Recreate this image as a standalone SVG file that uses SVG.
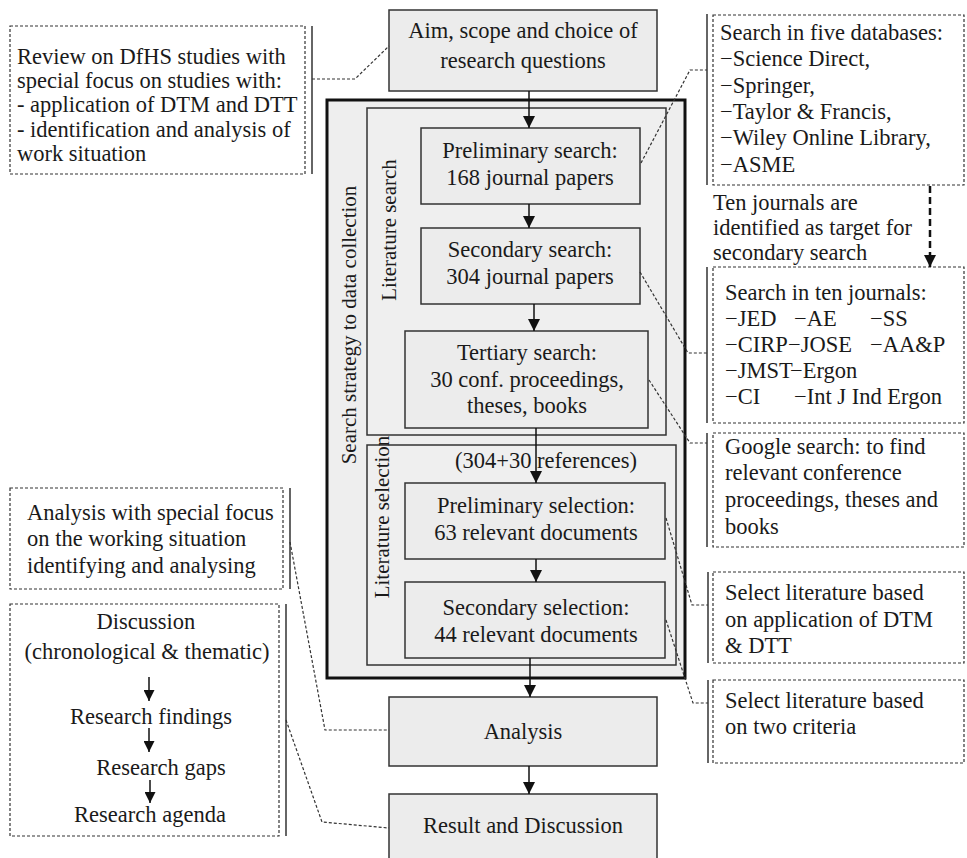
<svg xmlns="http://www.w3.org/2000/svg" width="967" height="858" viewBox="0 0 967 858">
<defs>
<marker id="ah" viewBox="0 0 10 10" refX="10" refY="5" markerWidth="12" markerHeight="12" markerUnits="userSpaceOnUse" orient="auto"><path d="M0,0 L10,5 L0,10 z" fill="#111"/></marker>
<marker id="ahs" viewBox="0 0 10 10" refX="10" refY="5" markerWidth="11" markerHeight="11" markerUnits="userSpaceOnUse" orient="auto"><path d="M0,0 L10,5 L0,10 z" fill="#111"/></marker>
<style>
text{font-family:"Liberation Serif","Times New Roman",serif;font-size:22.5px;fill:#1a1a1a}
.c{text-anchor:middle}
.v{font-size:21px}
.box{fill:#ececec;stroke:#333;stroke-width:1.5}
.grp{fill:#efefef;stroke:#333;stroke-width:1.5}
.outer{fill:#eeeeee;stroke:#111;stroke-width:3}
.note{fill:#fff;stroke:#333;stroke-width:1.2;stroke-dasharray:3 2}
.bar{stroke:#333;stroke-width:1.5;fill:none}
.dash{fill:none;stroke:#333;stroke-width:1.2;stroke-dasharray:3 2}
.arr{stroke:#111;stroke-width:1.5;fill:none;marker-end:url(#ah)}
.arrs{stroke:#111;stroke-width:1.5;fill:none;marker-end:url(#ahs)}
</style>
</defs>

<g id="aim">
<rect class="box" x="389" y="10" width="268" height="81"/>
<text class="c" x="523" y="38">Aim, scope and choice of</text>
<text class="c" x="523" y="68">research questions</text>
</g>

<g id="strategy">
<rect class="outer" x="327" y="100" width="358" height="578"/>
<text class="v c" transform="translate(356,325) rotate(-90)">Search strategy to data collection</text>
</g>

<g id="lit-search">
<rect class="grp" x="367" y="108" width="299" height="327"/>
<text class="v c" transform="translate(396,230) rotate(-90)">Literature search</text>
</g>

<g id="lit-selection">
<rect class="grp" x="367" y="445" width="309" height="220"/>
<text class="v c" transform="translate(389,517) rotate(-90)">Literature selection</text>
<text class="c" x="546" y="468">(304+30 references)</text>
</g>

<g id="prelim-search">
<rect class="box" x="421" y="128" width="219" height="76"/>
<text class="c" x="530" y="158">Preliminary  search:</text>
<text class="c" x="530" y="185">168 journal papers</text>
</g>

<g id="secondary-search">
<rect class="box" x="421" y="228" width="219" height="76"/>
<text class="c" x="530" y="257">Secondary search:</text>
<text class="c" x="530" y="284">304 journal papers</text>
</g>

<g id="tertiary-search">
<rect class="box" x="405" y="331" width="243" height="97"/>
<text class="c" x="527" y="360">Tertiary search:</text>
<text class="c" x="527" y="387">30 conf. proceedings,</text>
<text class="c" x="527" y="413">theses, books</text>
</g>

<g id="prelim-selection">
<rect class="box" x="405" y="483" width="260" height="76"/>
<text class="c" x="536" y="513">Preliminary  selection:</text>
<text class="c" x="536" y="540">63 relevant documents</text>
</g>

<g id="secondary-selection">
<rect class="box" x="405" y="582" width="260" height="76"/>
<text class="c" x="536" y="615">Secondary selection:</text>
<text class="c" x="536" y="642">44 relevant documents</text>
</g>

<g id="analysis">
<rect class="box" x="389" y="697" width="268" height="69"/>
<text class="c" x="523" y="739">Analysis</text>
</g>

<g id="result">
<rect class="box" x="389" y="794" width="268" height="70"/>
<text class="c" x="523" y="833">Result and Discussion</text>
</g>

<g id="note-review">
<rect class="note" x="10" y="26" width="295" height="148"/>
<line class="bar" x1="312" y1="26" x2="312" y2="174"/>
<text x="17" y="64">Review on DfHS studies with</text>
<text x="17" y="88">special focus on studies with:</text>
<text x="17" y="112">- application of DTM and DTT</text>
<text x="17" y="137">- identification and analysis of</text>
<text x="17" y="161">work situation</text>
</g>

<g id="note-analysis">
<rect class="note" x="10" y="488" width="273" height="101"/>
<line class="bar" x1="290" y1="488" x2="290" y2="589"/>
<text x="27" y="520">Analysis with special focus</text>
<text x="27" y="546">on the working situation</text>
<text x="27" y="573">identifying and analysing</text>
</g>

<g id="note-discussion">
<rect class="note" x="10" y="604" width="269" height="232"/>
<line class="bar" x1="286" y1="604" x2="286" y2="836"/>
<text class="c" x="146" y="629">Discussion</text>
<text class="c" x="147" y="659">(chronological &amp; thematic)</text>
<line class="arrs" x1="149" y1="677" x2="149" y2="701"/>
<text class="c" x="151" y="724">Research findings</text>
<line class="arrs" x1="149" y1="728" x2="149" y2="752"/>
<text class="c" x="161" y="775">Research gaps</text>
<line class="arrs" x1="150" y1="780" x2="150" y2="803"/>
<text class="c" x="150" y="822">Research agenda</text>
</g>

<g id="note-databases">
<rect class="note" x="713" y="15" width="251" height="170"/>
<line class="bar" x1="707" y1="14" x2="707" y2="185"/>
<text x="720" y="40">Search in five databases:</text>
<text x="720" y="66">−Science Direct,</text>
<text x="720" y="93">−Springer,</text>
<text x="720" y="119">−Taylor &amp; Francis,</text>
<text x="720" y="145">−Wiley Online Library,</text>
<text x="720" y="172">−ASME</text>
</g>

<g id="label-ten">
<text x="713" y="210">Ten journals are</text>
<text x="713" y="235">identified as target for</text>
<text x="713" y="260">secondary search</text>
</g>

<g id="note-journals">
<rect class="note" x="713" y="267" width="251" height="156"/>
<line class="bar" x1="707" y1="267" x2="707" y2="423"/>
<text x="725" y="300">Search in ten journals:</text>
<text x="725" y="326">−JED</text><text x="794" y="326">−AE</text><text x="870" y="326">−SS</text>
<text x="725" y="352">−CIRP</text><text x="788" y="352">−JOSE</text><text x="870" y="352">−AA&amp;P</text>
<text x="725" y="378">−JMST</text><text x="790" y="378">−Ergon</text>
<text x="725" y="404">−CI</text><text x="794" y="404">−Int J Ind Ergon</text>
</g>

<g id="note-google">
<rect class="note" x="713" y="433" width="251" height="114"/>
<line class="bar" x1="707" y1="433" x2="707" y2="547"/>
<text x="725" y="454">Google search: to find</text>
<text x="725" y="480">relevant conference</text>
<text x="725" y="507">proceedings, theses and</text>
<text x="725" y="534">books</text>
</g>

<g id="note-dtm">
<rect class="note" x="713" y="572" width="251" height="91"/>
<line class="bar" x1="708" y1="572" x2="708" y2="663"/>
<text x="725" y="600">Select literature based</text>
<text x="725" y="627">on application of DTM</text>
<text x="725" y="653">&amp; DTT</text>
</g>

<g id="note-criteria">
<rect class="note" x="713" y="680" width="251" height="83"/>
<line class="bar" x1="708" y1="680" x2="708" y2="763"/>
<text x="725" y="708">Select literature based</text>
<text x="725" y="734">on two criteria</text>
</g>

<g id="connectors">
<line class="arr" x1="529" y1="91" x2="529" y2="128"/>
<line class="arr" x1="529" y1="204" x2="529" y2="228"/>
<line class="arr" x1="534" y1="304" x2="534" y2="331"/>
<line class="arr" x1="536" y1="428" x2="536" y2="483"/>
<line class="arr" x1="536" y1="559" x2="536" y2="582"/>
<line class="arr" x1="530" y1="658" x2="530" y2="697"/>
<line class="arr" x1="529" y1="766" x2="529" y2="794"/>
<line x1="930" y1="186" x2="930" y2="267" stroke="#111" stroke-width="2.5" stroke-dasharray="7 4" marker-end="url(#ah)"/>
<polyline class="dash" points="312,79 355,79 389,46"/>
<polyline class="dash" points="641,163 690,70 707,70"/>
<polyline class="dash" points="640,272 688,353 707,353"/>
<polyline class="dash" points="649,380 690,443 707,443"/>
<polyline class="dash" points="666,518 692,605 708,605"/>
<polyline class="dash" points="666,620 693,703 708,703"/>
<polyline class="dash" points="290,542 325,730 389,730"/>
<polyline class="dash" points="286,720 322,822 389,828"/>
</g>
</svg>
